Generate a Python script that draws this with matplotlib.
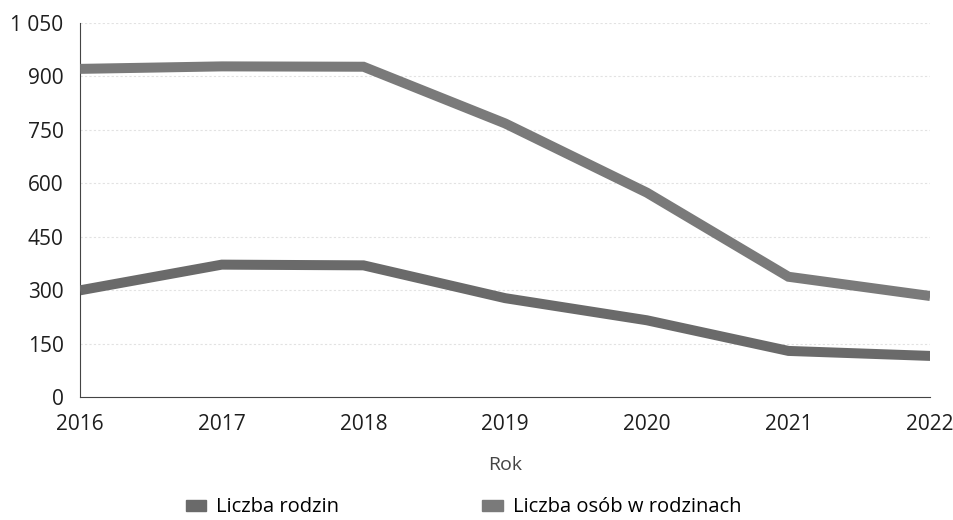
import matplotlib
matplotlib.use("Agg")
import matplotlib.pyplot as plt
from matplotlib.patches import Patch
from matplotlib.ticker import FuncFormatter

# data
years = [2016, 2017, 2018, 2019, 2020, 2021, 2022]
families = [300, 372, 370, 278, 216, 130, 116]
persons = [921, 928, 927, 768, 574, 338, 284]
labels = ["Liczba rodzin", "Liczba osób w rodzinach"]
y_ticks = [0, 150, 300, 450, 600, 750, 900, 1050]

col_fam = "#6a6a6a"
col_per = "#7a7a7a"

plt.rcParams['font.family'] = ['Open Sans', 'DejaVu Sans']

fig = plt.figure(figsize=(9.54, 5.2), dpi=100)
ax = fig.add_axes([0.084, 0.236, 0.891, 0.72])

ax.plot(years, families, color=col_fam, lw=7.2, solid_joinstyle='miter',
        solid_capstyle='butt', zorder=3)
ax.plot(years, persons, color=col_per, lw=7.2, solid_joinstyle='miter',
        solid_capstyle='butt', zorder=3)

ax.set_xlim(years[0], years[-1])
ax.set_ylim(0, 1050)
ax.set_xticks(years)
ax.set_yticks(y_ticks)
ax.yaxis.set_major_formatter(FuncFormatter(lambda v, p: f"{int(v):,}".replace(",", " ")))

# faint dotted gridlines
for t in y_ticks[1:]:
    ax.axhline(t, color="#e2e2e2", lw=0.8, ls=(0, (2, 2)), zorder=1)

for s in ["top", "right"]:
    ax.spines[s].set_visible(False)
for s in ["left", "bottom"]:
    ax.spines[s].set_color("#444444")
    ax.spines[s].set_linewidth(0.8)
    ax.spines[s].set_linestyle((0, (3, 1)))

ax.tick_params(length=0, labelsize=15, colors="#1e1e1e")
ax.tick_params(axis='y', pad=12)
ax.tick_params(axis='x', pad=12)
ax.set_xlabel("Rok", fontsize=14, color="#444444", labelpad=15)

handles = [Patch(color=col_fam), Patch(color=col_per)]
fig.legend(handles, labels, loc="lower center", bbox_to_anchor=(0.486, -0.03),
           ncol=2, frameon=False, fontsize=14.5, handlelength=1.0,
           handleheight=0.45, handletextpad=0.5, columnspacing=7.1)

fig.savefig("out.png", dpi=100)
